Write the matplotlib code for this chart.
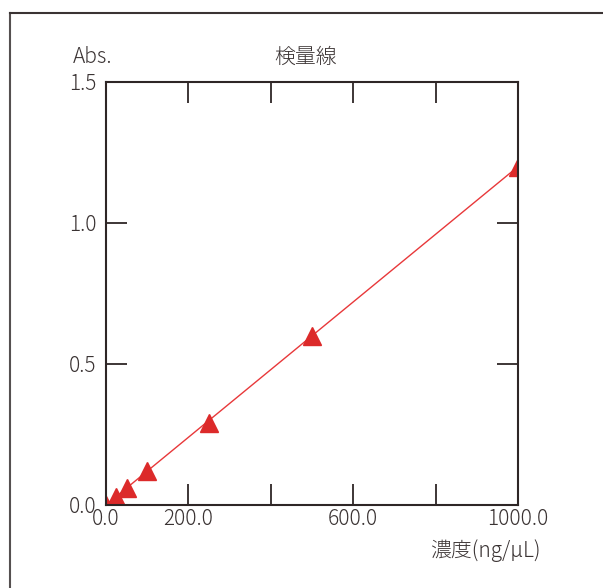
import matplotlib
matplotlib.use("Agg")
from matplotlib import pyplot as plt
from matplotlib.lines import Line2D

plt.rcParams['font.family'] = ['Noto Sans CJK JP', 'DejaVu Sans']

# data
conc = [0, 25, 50, 100, 250, 500, 1000]
absorb = [0.0, 0.03, 0.06, 0.12, 0.29, 0.60, 1.20]
fit_x = [0, 1000]
fit_y = [0.0, 1.20]
x_ticks = [0, 200, 400, 600, 800, 1000]
x_labels = ["0.0", "200.0", "", "600.0", "", "1000.0"]
y_ticks = [0.0, 0.5, 1.0, 1.5]
y_labels = ["0.0", "0.5", "1.0", "1.5"]

ink = "#2e2626"
red = "#dc2a2a"
txt = "#3a3333"

fig = plt.figure(figsize=(6.03, 5.88), dpi=100)
ax = fig.add_axes([0.1758, 0.1412, 0.6833, 0.7194])

ax.plot(fit_x, fit_y, color="#e8383a", lw=1.0)
ax.plot(conc, absorb, linestyle="none", marker="^", markersize=13,
        color=red, markeredgecolor=red)

ax.set_xlim(0, 1000)
ax.set_ylim(0, 1.5)
ax.set_xticks(x_ticks)
ax.set_xticklabels(x_labels, fontweight="light")
ax.set_yticks(y_ticks)
ax.set_yticklabels(y_labels, fontweight="light")
ax.tick_params(direction="in", length=15, width=1.3, color=ink,
               labelsize=15, labelcolor=txt,
               top=True, right=True)
ax.tick_params(axis="x", pad=2)
ax.tick_params(axis="y", pad=7)
for s in ax.spines.values():
    s.set_color(ink)
    s.set_linewidth(1.5)

fig.text(0.121, 0.903, "Abs.", fontsize=15, color=txt, fontweight="light",
         ha="left", va="center")
fig.text(0.506, 0.903, "検量線", fontsize=15, color=txt, fontweight="light",
         ha="center", va="center")
fig.text(0.897, 0.063, "濃度(ng/μL)", fontsize=15, color=txt, fontweight="light",
         ha="right", va="center")

# outer frame, cut off at the right and bottom
fig.add_artist(Line2D([0.0166, 0.0166], [0.0, 0.978], color="#555050", lw=1.5))
fig.add_artist(Line2D([0.0166, 1.0], [0.978, 0.978], color="#3a3333", lw=1.5))

fig.savefig("out.png", dpi=100)
